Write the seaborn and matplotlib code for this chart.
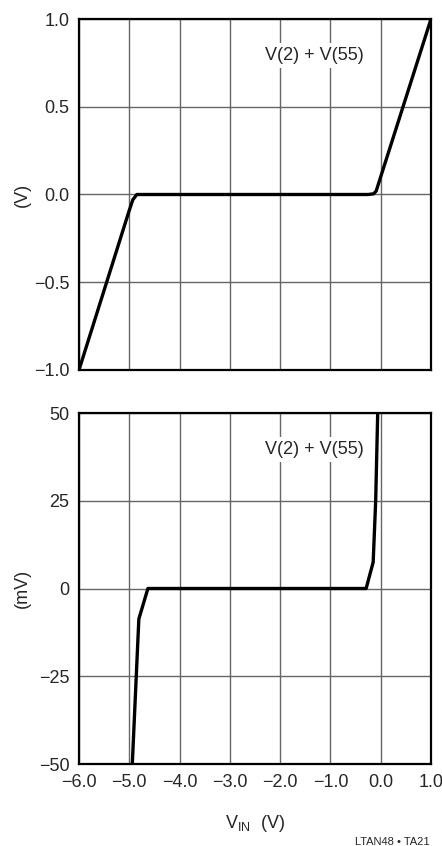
import numpy as np
import pandas as pd
import matplotlib
matplotlib.use("Agg")
import matplotlib.pyplot as plt
import seaborn as sns

# top panel: output in volts
vin_top = [-6.0, -5.0, -4.93, -4.85, -0.25, -0.14, -0.09, 1.0]
vout_top = [-1.0, -0.09, -0.03, 0.0, 0.0, 0.004, 0.02, 1.0]

# bottom panel: output in millivolts
vin_bot = [-4.94, -4.81, -4.63, -0.29, -0.15, -0.10, -0.06]
vout_bot = [-50.0, -8.7, 0.0, 0.0, 7.5, 25.0, 50.0]

x_ticks = [-6.0, -5.0, -4.0, -3.0, -2.0, -1.0, 0.0, 1.0]
top_ticks = [-1.0, -0.5, 0.0, 0.5, 1.0]
bot_ticks = [-50, -25, 0, 25, 50]
trace_label = "V(2) + V(55)"

sns.set_style("white")
plt.rcParams['font.family'] = ['Liberation Sans Narrow', 'Liberation Sans', 'DejaVu Sans']
plt.rcParams['axes.unicode_minus'] = True

fig = plt.figure(figsize=(4.42, 8.46), dpi=100)
W, H = 442.0, 846.0
ax_top = fig.add_axes([79 / W, (H - 370) / H, 352 / W, 351 / H])
ax_bot = fig.add_axes([79 / W, (H - 764) / H, 352 / W, 351 / H])

df_top = pd.DataFrame({'vin': vin_top, 'vout': vout_top})
df_bot = pd.DataFrame({'vin': vin_bot, 'vout': vout_bot})


def minus(s):
    return s.replace("-", "\u2212")


def style_axes(ax, yticks, ylabels, ylabel, show_x):
    ax.set_xlim(-6, 1)
    ax.set_ylim(yticks[0], yticks[-1])
    ax.set_xticks(x_ticks)
    ax.set_yticks(yticks)
    ax.set_yticklabels([minus(l) for l in ylabels], fontsize=13)
    if show_x:
        ax.set_xticklabels([minus("%.1f" % v) for v in x_ticks], fontsize=13)
    else:
        ax.set_xticklabels([])
    ax.tick_params(length=0, pad=7)
    ax.grid(True, color='#666666', linewidth=1.0)
    ax.set_axisbelow(True)
    for s in ax.spines.values():
        s.set_color('black')
        s.set_linewidth(1.6)
        s.set_visible(True)
    ax.set_ylabel(ylabel, fontsize=13)
    ax.yaxis.set_label_coords(-0.136, 0.5)
    ax.set_xlabel("")
    ax.text(-1.31, yticks[-1] - (yticks[-1] - yticks[0]) * 0.103, trace_label,
            fontsize=13, ha='center', va='center', zorder=3,
            bbox=dict(facecolor='white', edgecolor='none', pad=3))


sns.lineplot(data=df_top, x='vin', y='vout', ax=ax_top, color='black',
             linewidth=2.4, sort=False, estimator=None, zorder=4)
sns.lineplot(data=df_bot, x='vin', y='vout', ax=ax_bot, color='black',
             linewidth=2.4, sort=False, estimator=None, zorder=4)

style_axes(ax_top, top_ticks, ["-1.0", "-0.5", "0.0", "0.5", "1.0"], "(V)", False)
style_axes(ax_bot, bot_ticks, ["-50", "-25", "0", "25", "50"], "(mV)", True)

ax_bot.set_xlabel(r"V$_{\mathregular{IN}}$  (V)", fontsize=13, labelpad=16)

fig.text(392 / W, 1 - 842 / H, "LTAN48 \u2022 TA21", fontsize=8, ha='center', va='center')

fig.savefig("out.png", dpi=100)
